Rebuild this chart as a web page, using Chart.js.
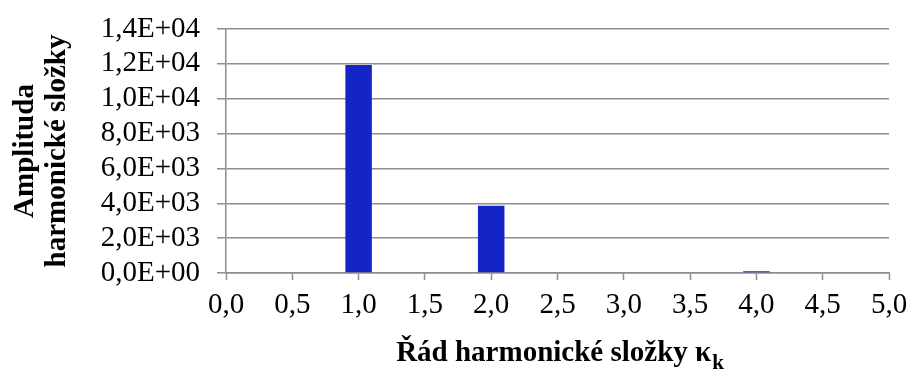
<!DOCTYPE html>
<html lang="cs">
<head>
<meta charset="utf-8">
<title>Amplituda harmonické složky</title>
<script src="https://cdn.jsdelivr.net/npm/chart.js@4.4.1/dist/chart.umd.min.js"></script>
<style>
  html, body { margin: 0; padding: 0; background: #ffffff; }
  #wrap { width: 911px; height: 371px; }
  canvas { display: block; }
</style>
</head>
<body>
<div id="wrap"><canvas id="c" width="911" height="371"></canvas></div>
<script>
// Harmonic order and amplitude of each harmonic component
const harmonics = [1, 2, 4];
const amplitudes = [11930, 3860, 100];

// Axis tick labels (Czech decimal comma, scientific notation)
const xTickLabels = ['0,0', '0,5', '1,0', '1,5', '2,0', '2,5', '3,0', '3,5', '4,0', '4,5', '5,0'];
const yTickLabels = ['0,0E+00', '2,0E+03', '4,0E+03', '6,0E+03', '8,0E+03', '1,0E+04', '1,2E+04', '1,4E+04'];

// Axis titles
const yTitleLines = ['Amplituda', 'harmonické složky'];
const xTitleMain = 'Řád harmonické složky κ';
const xTitleSub = 'k';

const FONT = '"Liberation Serif", "Times New Roman", Times, serif';
const GRID = '#8e8e8e';

// Draws the two axis titles (the x title carries a subscript)
const axisTitles = {
  id: 'axisTitles',
  afterDraw(chart) {
    const { ctx, chartArea } = chart;
    ctx.save();
    ctx.fillStyle = '#000';
    ctx.textBaseline = 'alphabetic';

    // vertical title, two lines, rotated
    ctx.font = 'bold 29px ' + FONT;
    const cy = (chartArea.top + chartArea.bottom) / 2;
    const baselines = [33, 65];
    yTitleLines.forEach((line, i) => {
      ctx.save();
      ctx.translate(baselines[i], cy);
      ctx.rotate(-Math.PI / 2);
      ctx.textAlign = 'center';
      ctx.fillText(line, 0, 0);
      ctx.restore();
    });

    // horizontal title with subscript
    ctx.textAlign = 'left';
    const mainFont = 'bold 29px ' + FONT;
    const subFont = 'bold 21px ' + FONT;
    ctx.font = mainFont;
    const wMain = ctx.measureText(xTitleMain).width;
    ctx.font = subFont;
    const wSub = ctx.measureText(xTitleSub).width;
    const cx = (chartArea.left + chartArea.right) / 2;
    const x0 = cx - (wMain + wSub) / 2 + 2;
    const by = 361;
    ctx.font = mainFont;
    ctx.fillText(xTitleMain, x0, by);
    ctx.font = subFont;
    ctx.fillText(xTitleSub, x0 + wMain + 1, by + 8);
    ctx.restore();
  }
};

// Fixed scale boxes: no extra label overhang padding, so the layout padding
// alone places the plot area.
function fixBox(size) {
  return function (scale) {
    if (scale.isHorizontal()) {
      scale.height = size;
    } else {
      scale.width = size;
    }
    scale.paddingTop = 0;
    scale.paddingBottom = 0;
    scale.paddingLeft = 0;
    scale.paddingRight = 0;
  };
}

new Chart(document.getElementById('c'), {
  type: 'bar',
  data: {
    datasets: [{
      data: harmonics.map((h, i) => ({ x: h, y: amplitudes[i] })),
      backgroundColor: '#1326c5',
      borderWidth: 0,
      barPercentage: 0.4,
      categoryPercentage: 1.0
    }]
  },
  options: {
    responsive: false,
    animation: false,
    devicePixelRatio: 1,
    layout: { padding: { top: 29, right: 22, bottom: 0, left: 0 } },
    plugins: {
      legend: { display: false },
      tooltip: { enabled: false },
      title: { display: false }
    },
    scales: {
      x: {
        type: 'linear',
        min: 0,
        max: 5,
        offset: false,
        afterFit: fixBox(98),
        ticks: {
          stepSize: 0.5,
          autoSkip: false,
          maxRotation: 0,
          padding: 8,
          color: '#000',
          font: { family: FONT, size: 29 },
          callback: (v, i) => xTickLabels[i]
        },
        grid: {
          offset: false,
          drawOnChartArea: false,
          drawTicks: true,
          tickLength: 7,
          tickWidth: 1.5,
          tickColor: GRID
        },
        border: { display: true, color: GRID, width: 1.5 }
      },
      y: {
        min: 0,
        max: 14000,
        afterFit: fixBox(226),
        ticks: {
          stepSize: 2000,
          autoSkip: false,
          padding: 17,
          color: '#000',
          font: { family: FONT, size: 29 },
          callback: (v, i) => yTickLabels[i]
        },
        grid: {
          color: GRID,
          lineWidth: 1.5,
          drawTicks: true,
          tickLength: 9
        },
        border: { display: true, color: GRID, width: 1.5 }
      }
    }
  },
  plugins: [axisTitles]
});
</script>
</body>
</html>
